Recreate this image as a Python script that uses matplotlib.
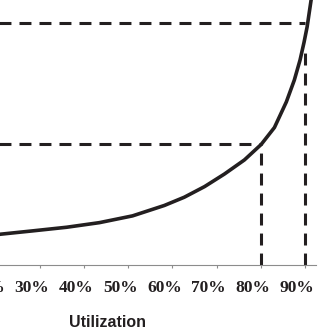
import matplotlib
matplotlib.use("Agg")
import matplotlib.pyplot as plt
import matplotlib.transforms as mtransforms

# utilization vs. response time curve
util = [0.190, 0.210, 0.284, 0.361, 0.435, 0.510, 0.582, 0.627, 0.673, 0.718,
        0.763, 0.801, 0.831, 0.858, 0.876, 0.889, 0.898, 0.905, 0.914, 0.921]
delay = [1.23, 1.27, 1.41, 1.56, 1.75, 2.03, 2.46, 2.80, 3.24, 3.76,
         4.34, 4.98, 5.68, 6.74, 7.64, 8.47, 9.20, 9.84, 10.95, 11.57]

tick_pos = [0.0, 0.1, 0.2, 0.3, 0.4, 0.5, 0.6, 0.7, 0.8, 0.9]
tick_lab = ["0%", "10%", "20%", "30%", "40%", "50%", "60%", "70%", "80%", "90%"]

# guide lines: (utilization, level, top of vertical)
guide_u = [0.80, 0.90]
guide_h = [5.0, 10.0]
guide_v = [5.0, 8.88]

ink = "#231f20"
plt.rcParams["lines.scale_dashes"] = False

fig = plt.figure(figsize=(3.34, 3.34), dpi=100)
ax = fig.add_axes([-0.278, 0.2066, 1.224, 0.7934])
ax.set_xlim(0, 0.925)
ax.set_ylim(0, 10.95)

dash = (0, (8.6, 5.8))
for u, h, v in zip(guide_u, guide_h, guide_v):
    ax.plot([0, u], [h, h], color=ink, lw=2.2, linestyle=dash)
    ax.plot([u, u], [0, v], color=ink, lw=2.2, linestyle=dash)

ax.plot(util, delay, color=ink, lw=2.6, solid_joinstyle="round")

for s in ["top", "right", "left"]:
    ax.spines[s].set_visible(False)
ax.spines["bottom"].set_color("#8c8c8c")
ax.spines["bottom"].set_linewidth(0.8)
ax.set_yticks([])
ax.set_xticks(tick_pos)
ax.set_xticklabels(tick_lab, fontfamily="Liberation Serif", fontweight="bold", fontsize=12.5, color=ink)
ax.tick_params(axis="x", direction="out", length=2.5, width=0.8, color="#8c8c8c", pad=8.5)
off = mtransforms.ScaledTranslation(-8 / 100, 0, fig.dpi_scale_trans)
for lab in ax.get_xticklabels():
    lab.set_transform(lab.get_transform() + off)

ax.set_xlabel("Utilization", fontfamily="Liberation Sans", fontweight="bold", fontsize=11.5, color=ink)
ax.xaxis.set_label_coords(0.491, -0.218)
ax.xaxis.label.set_verticalalignment("center")

fig.savefig("out.png", dpi=100)
